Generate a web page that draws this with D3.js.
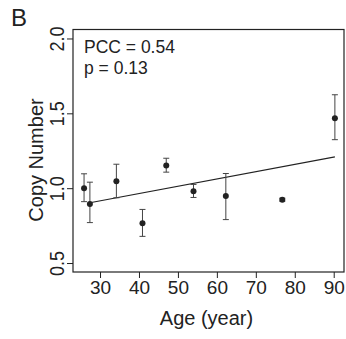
<!DOCTYPE html>
<html lang="en">
<head>
  <meta charset="UTF-8">
  <title>Copy Number vs Age</title>
  <script src="https://d3js.org/d3.v7.min.js"></script>
  <style>
    body { margin: 0; background: #fff; }
    svg text { font-family: "Liberation Sans", Arial, sans-serif; fill: #222; }
  </style>
</head>
<body>
  <svg id="chart" width="346" height="339"></svg>

  <script>
    // data
    const ages = [25.9, 27.4, 34.2, 40.9, 47.0, 54.0, 62.3, 76.8, 90.3];
    const copyNumber = [1.00, 0.895, 1.047, 0.765, 1.151, 0.98, 0.947, 0.923, 1.467];
    const errUpper = [1.096, 1.04, 1.16, 0.858, 1.20, 1.025, 1.098, 0.933, 1.624];
    const errLower = [0.91, 0.77, 0.936, 0.678, 1.107, 0.938, 0.79, 0.913, 1.324];
    const fitLine = [[27.4, 0.903], [90.3, 1.209]];
    const xTicks = [30, 40, 50, 60, 70, 80, 90];
    const yTicks = [0.5, 1.0, 1.5, 2.0];
    const statLines = ["PCC = 0.54", "p = 0.13"];

    const margin = { top: 29.5, right: 2, bottom: 67, left: 73 };
    const width = 346 - margin.left - margin.right;
    const height = 339 - margin.top - margin.bottom;
    const ink = "#222";

    const svg = d3.select("#chart");
    const g = svg.append("g")
      .attr("transform", `translate(${margin.left},${margin.top})`);

    const x = d3.scaleLinear().domain([23.06, 92.64]).range([0, width]);
    const y = d3.scaleLinear().domain([0.44, 2.06]).range([height, 0]);

    // axes
    const gX = g.append("g")
      .attr("transform", `translate(0,${height})`)
      .call(d3.axisBottom(x).tickValues(xTicks).tickSize(6).tickPadding(3).tickFormat(d3.format("d")));
    gX.select(".domain").remove();
    gX.selectAll("line").attr("stroke", ink);
    gX.selectAll("text").attr("font-size", 19).attr("fill", ink);

    const gY = g.append("g")
      .call(d3.axisLeft(y).tickValues(yTicks).tickSize(6).tickFormat(d3.format(".1f")));
    gY.select(".domain").remove();
    gY.selectAll("line").attr("stroke", ink);
    gY.selectAll("text")
      .attr("font-size", 18)
      .attr("fill", ink)
      .attr("text-anchor", "middle")
      .attr("dy", null)
      .attr("x", null)
      .attr("transform", "translate(-9,0) rotate(-90) scale(1,1.12)");

    // box
    g.append("rect")
      .attr("width", width).attr("height", height)
      .attr("fill", "none").attr("stroke", ink).attr("stroke-width", 1.2);

    // regression line
    g.append("line")
      .attr("x1", x(fitLine[0][0])).attr("y1", y(fitLine[0][1]))
      .attr("x2", x(fitLine[1][0])).attr("y2", y(fitLine[1][1]))
      .attr("stroke", ink).attr("stroke-width", 1.1);

    // error bars
    const bars = g.selectAll(".err").data(ages).enter().append("g").attr("class", "err")
      .attr("stroke", "#444").attr("stroke-width", 1);
    bars.append("line")
      .attr("x1", d => x(d)).attr("x2", d => x(d))
      .attr("y1", (d, i) => y(errUpper[i])).attr("y2", (d, i) => y(errLower[i]));
    bars.append("line")
      .attr("x1", d => x(d) - 3).attr("x2", d => x(d) + 3)
      .attr("y1", (d, i) => y(errUpper[i])).attr("y2", (d, i) => y(errUpper[i]));
    bars.append("line")
      .attr("x1", d => x(d) - 3).attr("x2", d => x(d) + 3)
      .attr("y1", (d, i) => y(errLower[i])).attr("y2", (d, i) => y(errLower[i]));

    // points
    g.selectAll(".pt").data(ages).enter().append("circle").attr("class", "pt")
      .attr("cx", d => x(d)).attr("cy", (d, i) => y(copyNumber[i]))
      .attr("r", 3).attr("fill", ink);

    // stats text
    g.selectAll(".stat").data(statLines).enter().append("text").attr("class", "stat")
      .attr("x", 11).attr("y", (d, i) => 23.5 + i * 21)
      .attr("font-size", 17.5)
      .text(d => d);

    // axis titles
    svg.append("text")
      .attr("x", 206.5).attr("y", 325)
      .attr("text-anchor", "middle").attr("font-size", 20)
      .text("Age (year)");
    svg.append("text")
      .attr("transform", `translate(43,160) rotate(-90)`)
      .attr("text-anchor", "middle").attr("font-size", 20)
      .text("Copy Number");

    // panel letter
    svg.append("text")
      .attr("x", 11).attr("y", 26).attr("font-size", 24)
      .text("B");
  </script>
</body>
</html>
